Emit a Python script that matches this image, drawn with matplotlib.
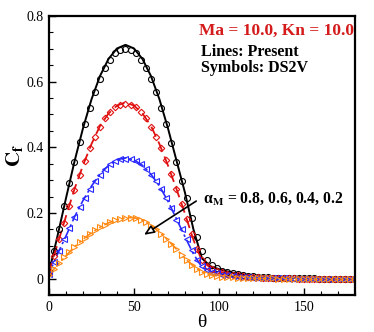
import numpy as np
import matplotlib
matplotlib.use('Agg')
import matplotlib.pyplot as plt
from matplotlib.ticker import MultipleLocator, FuncFormatter

plt.rcParams['font.family'] = 'serif'
plt.rcParams['font.serif'] = ['Liberation Serif', 'DejaVu Serif']
plt.rcParams['mathtext.fontset'] = 'stix'

# angles
theta_line = np.arange(0, 181, 5)
theta_sym = np.arange(0, 181, 3)

# Present (lines), alpha_M = 0.8, 0.6, 0.4, 0.2
cf_line_08 = [0.02, 0.13, 0.245, 0.357, 0.458, 0.546, 0.617, 0.669, 0.701, 0.712,
              0.701, 0.669, 0.617, 0.546, 0.458, 0.36, 0.262, 0.15, 0.062, 0.038,
              0.029, 0.022, 0.016, 0.012, 0.008, 0.006, 0.004, 0.003, 0.002, 0.002,
              0.001, 0.001, 0.001, 0.0, 0.0, 0.0, 0.0]
cf_line_06 = [0.02, 0.105, 0.19, 0.273, 0.345, 0.41, 0.465, 0.503, 0.527, 0.537,
              0.527, 0.503, 0.465, 0.41, 0.345, 0.273, 0.198, 0.118, 0.055, 0.033,
              0.022, 0.016, 0.011, 0.008, 0.005, 0.004, 0.003, 0.002, 0.001, 0.001,
              0.0, 0.0, 0.0, 0.0, 0.0, 0.0, 0.0]
cf_line_04 = [0.015, 0.075, 0.13, 0.188, 0.238, 0.282, 0.318, 0.345, 0.362, 0.368,
              0.362, 0.345, 0.318, 0.282, 0.236, 0.182, 0.128, 0.075, 0.035, 0.022,
              0.015, 0.011, 0.008, 0.005, 0.004, 0.003, 0.002, 0.001, 0.001, 0.0,
              0.0, 0.0, 0.0, 0.0, 0.0, 0.0, 0.0]
cf_line_02 = [0.012, 0.042, 0.07, 0.097, 0.12, 0.14, 0.157, 0.17, 0.18, 0.186,
              0.186, 0.178, 0.163, 0.142, 0.117, 0.09, 0.062, 0.038, 0.02, 0.012,
              0.008, 0.005, 0.004, 0.003, 0.002, 0.001, 0.0, 0.0, 0.0, 0.0,
              0.0, 0.0, 0.0, 0.0, 0.0, 0.0, 0.0]

# DS2V (symbols)
cf_sym_08 = [0.02, 0.085, 0.15, 0.22, 0.29, 0.355, 0.415, 0.47, 0.52, 0.568,
             0.607, 0.64, 0.667, 0.686, 0.697, 0.70, 0.697, 0.686, 0.667, 0.64,
             0.607, 0.568, 0.52, 0.47, 0.412, 0.355, 0.298, 0.245, 0.185, 0.128,
             0.085, 0.058, 0.042, 0.032, 0.025, 0.02, 0.016, 0.013, 0.011, 0.009,
             0.007, 0.006, 0.005, 0.004, 0.003, 0.003, 0.002, 0.002, 0.001, 0.001,
             0.001, 0.001, 0.001, 0.0, 0.0, 0.0, 0.0, 0.0, 0.0, 0.0, 0.0]
cf_sym_06 = [0.02, 0.07, 0.12, 0.17, 0.22, 0.27, 0.315, 0.358, 0.397, 0.432,
             0.462, 0.488, 0.508, 0.522, 0.53, 0.532, 0.53, 0.522, 0.508, 0.488,
             0.462, 0.432, 0.397, 0.36, 0.318, 0.273, 0.228, 0.182, 0.135, 0.09,
             0.056, 0.04, 0.03, 0.024, 0.019, 0.015, 0.012, 0.01, 0.008, 0.006,
             0.005, 0.004, 0.003, 0.003, 0.002, 0.002, 0.001, 0.001, 0.001, 0.0,
             0.0, 0.0, 0.0, 0.0, 0.0, 0.0, 0.0, 0.0, 0.0, 0.0, 0.0]
cf_sym_04 = [0.015, 0.05, 0.085, 0.12, 0.155, 0.188, 0.218, 0.246, 0.272, 0.296,
             0.317, 0.334, 0.348, 0.358, 0.363, 0.365, 0.363, 0.358, 0.348, 0.334,
             0.317, 0.296, 0.272, 0.246, 0.216, 0.178, 0.15, 0.12, 0.086, 0.058,
             0.038, 0.028, 0.021, 0.016, 0.012, 0.01, 0.008, 0.006, 0.005, 0.004,
             0.003, 0.002, 0.002, 0.002, 0.001, 0.001, 0.001, 0.0, 0.0, 0.0,
             0.0, 0.0, 0.0, 0.0, 0.0, 0.0, 0.0, 0.0, 0.0, 0.0, 0.0]
cf_sym_02 = [0.012, 0.03, 0.048, 0.065, 0.082, 0.097, 0.111, 0.124, 0.136, 0.147,
             0.157, 0.165, 0.172, 0.178, 0.182, 0.185, 0.186, 0.184, 0.18, 0.172,
             0.162, 0.15, 0.137, 0.122, 0.106, 0.09, 0.073, 0.057, 0.042, 0.029,
             0.019, 0.013, 0.01, 0.008, 0.006, 0.005, 0.004, 0.003, 0.003, 0.002,
             0.002, 0.001, 0.001, 0.001, 0.001, 0.0, 0.0, 0.0, 0.0, 0.0,
             0.0, 0.0, 0.0, 0.0, 0.0, 0.0, 0.0, 0.0, 0.0, 0.0, 0.0]

black = 'black'
red = '#e01010'
blue = '#2828ff'
orange = '#ff8a14'

fig = plt.figure(figsize=(3.74, 3.32), dpi=100)
ax = fig.add_axes([0.131, 0.111, 0.818, 0.841])

# lines (present)
ax.plot(theta_line, cf_line_08, color=black, lw=1.4, ls='-')
ax.plot(theta_line, cf_line_06, color=red, lw=1.3, ls=(0, (6, 3)))
ax.plot(theta_line, cf_line_04, color=blue, lw=1.2, ls=(0, (6, 2, 1.5, 2)))
ax.plot(theta_line, cf_line_02, color=orange, lw=1.2, ls=(0, (6, 2, 1.5, 2, 1.5, 2)))

# symbols (DS2V)
ax.plot(theta_sym, cf_sym_08, ls='none', marker='o', ms=4.3, mfc='none', mec=black, mew=0.8)
ax.plot(theta_sym, cf_sym_06, ls='none', marker='D', ms=3.3, mfc='none', mec=red, mew=0.8)
ax.plot(theta_sym, cf_sym_04, ls='none', marker='<', ms=4, mfc='none', mec=blue, mew=0.8)
ax.plot(theta_sym, cf_sym_02, ls='none', marker='>', ms=4, mfc='none', mec=orange, mew=0.8)

ax.set_xlim(0, 180)
ax.set_ylim(-0.05, 0.8)
ax.xaxis.set_major_locator(MultipleLocator(50))
ax.xaxis.set_minor_locator(MultipleLocator(10))
ax.yaxis.set_major_locator(MultipleLocator(0.2))
ax.yaxis.set_minor_locator(MultipleLocator(0.05))
ax.yaxis.set_major_formatter(FuncFormatter(lambda v, p: '0' if abs(v) < 1e-9 else '%.1f' % v))
ax.tick_params(which='both', direction='in', top=False, right=False, labelsize=10)
ax.tick_params(which='major', length=5, width=1, pad=4)
ax.tick_params(which='minor', length=3, width=0.8)
for s in ax.spines.values():
    s.set_linewidth(1.6)

ax.set_xlabel('θ', fontsize=14, labelpad=0)
ax.set_ylabel(r'$\mathbf{C_f}$', fontsize=15, labelpad=1)

ax.text(0.998, 0.945, 'Ma = 10.0, Kn = 10.0', transform=ax.transAxes, ha='right', va='center',
        color='#d41a1a', fontsize=12.5, fontweight='bold')
ax.text(0.496, 0.872, 'Lines: Present', transform=ax.transAxes, ha='left', va='center',
        fontsize=11.5, fontweight='bold')
ax.text(0.496, 0.814, 'Symbols: DS2V', transform=ax.transAxes, ha='left', va='center',
        fontsize=11.5, fontweight='bold')
ax.text(0.503, 0.345, r'α$_{\mathbf{M}}$ = 0.8, 0.6, 0.4, 0.2', transform=ax.transAxes,
        ha='left', va='center', fontsize=11.3, fontweight='bold')

ax.annotate('', xy=(54.5, 0.129), xytext=(88, 0.241),
            arrowprops=dict(arrowstyle='-|>,head_length=0.6,head_width=0.25', fc='white', ec='black', lw=1.2))

fig.savefig('out.png', dpi=100)
